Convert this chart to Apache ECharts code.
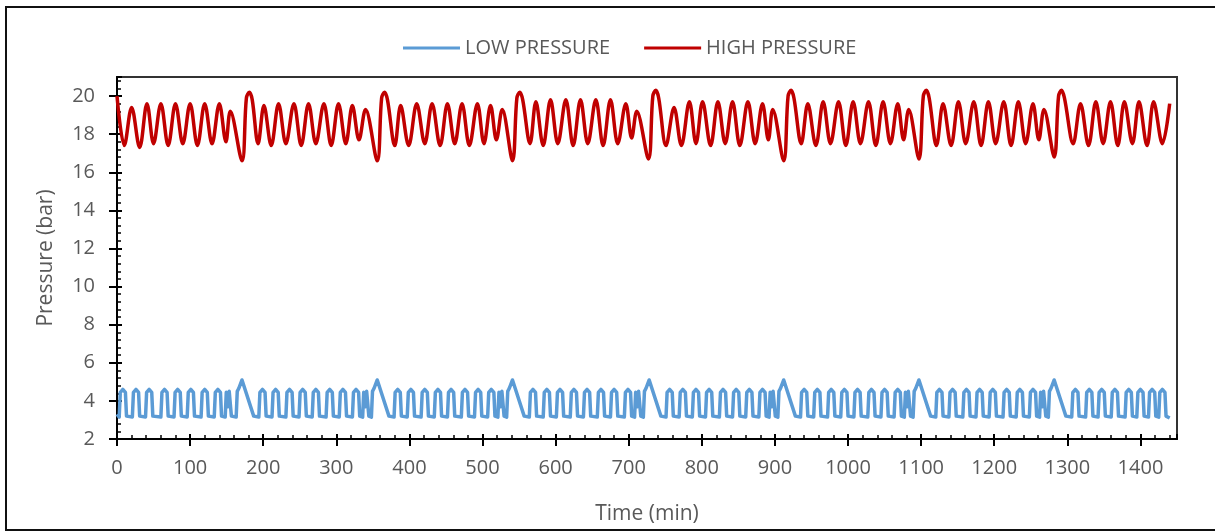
<!DOCTYPE html>
<html>
<head>
<meta charset="utf-8">
<title>Pressure</title>
<script src="https://cdn.jsdelivr.net/npm/echarts@6/dist/echarts.min.js"></script>
<style>
html,body{margin:0;padding:0;background:#fff;}
#chart{width:1215px;height:532px;}
</style>
</head>
<body>
<div id="chart"></div>
<script>
// x axis (min), y axis (bar)
var xMin = 0, xMax = 1450, xStep = 100;
var yMin = 2, yMax = 21, yStep = 2;
var seriesNames = ['LOW PRESSURE', 'HIGH PRESSURE'];

// [time, pressure]
var lowPressure = [
[0,3.3],[3,3.15],[4.5,4.45],[8,4.6],[11.5,4.45],[13,3.2],
[21,3.15],[22.5,4.45],[26,4.6],[29.5,4.45],[31,3.2],
[39,3.15],[40.5,4.45],[44,4.6],[47.5,4.45],[49,3.2],
[60,3.15],[61.5,4.45],[65,4.6],[68.5,4.45],[70,3.2],
[78,3.15],[79.5,4.45],[83,4.6],[86.5,4.45],[88,3.2],
[96,3.15],[97.5,4.45],[101,4.6],[104.5,4.45],[106,3.2],
[115,3.15],[116.5,4.45],[120,4.6],[123.5,4.45],[125,3.2],
[133,3.15],[134.5,4.45],[138,4.6],[141.5,4.45],[143,3.2],
[148,3.15],[149.5,4.45],[151,4.5],[152.5,3.7],[153.5,4.5],[155.5,4.45],[156.5,3.2],
[163,3.15],[164.5,4.5],[166.5,4.65],[171,5.1],[187,3.2],
[194,3.15],[195.5,4.45],[199,4.6],[202.5,4.45],[204,3.2],
[212,3.15],[213.5,4.45],[217,4.6],[220.5,4.45],[222,3.2],
[231,3.15],[232.5,4.45],[236,4.6],[239.5,4.45],[241,3.2],
[249,3.15],[250.5,4.45],[254,4.6],[257.5,4.45],[259,3.2],
[267,3.15],[268.5,4.45],[272,4.6],[275.5,4.45],[277,3.2],
[286,3.15],[287.5,4.45],[291,4.6],[294.5,4.45],[296,3.2],
[304,3.15],[305.5,4.45],[309,4.6],[312.5,4.45],[314,3.2],
[322,3.15],[323.5,4.45],[327,4.6],[330.5,4.45],[332,3.2],
[336,3.15],[337.5,4.45],[339,4.5],[340.5,3.7],[341.5,4.5],[343.5,4.45],[344.5,3.2],
[348,3.15],[349.5,4.5],[351.5,4.65],[356,5.1],[372,3.2],
[379,3.15],[380.5,4.45],[384,4.6],[387.5,4.45],[389,3.2],
[397,3.15],[398.5,4.45],[402,4.6],[405.5,4.45],[407,3.2],
[416,3.15],[417.5,4.45],[421,4.6],[424.5,4.45],[426,3.2],
[434,3.15],[435.5,4.45],[439,4.6],[442.5,4.45],[444,3.2],
[452,3.15],[453.5,4.45],[457,4.6],[460.5,4.45],[462,3.2],
[471,3.15],[472.5,4.45],[476,4.6],[479.5,4.45],[481,3.2],
[489,3.15],[490.5,4.45],[494,4.6],[497.5,4.45],[499,3.2],
[507,3.15],[508.5,4.45],[512,4.6],[515.5,4.45],[517,3.2],
[521,3.15],[522.5,4.45],[524,4.5],[525.5,3.7],[526.5,4.5],[528.5,4.45],[529.5,3.2],
[533,3.15],[534.5,4.5],[536.5,4.65],[541,5.1],[557,3.2],
[564,3.15],[565.5,4.45],[569,4.6],[572.5,4.45],[574,3.2],
[583,3.15],[584.5,4.45],[588,4.6],[591.5,4.45],[593,3.2],
[601,3.15],[602.5,4.45],[606,4.6],[609.5,4.45],[611,3.2],
[620,3.15],[621.5,4.45],[625,4.6],[628.5,4.45],[630,3.2],
[638,3.15],[639.5,4.45],[643,4.6],[646.5,4.45],[648,3.2],
[657,3.15],[658.5,4.45],[662,4.6],[665.5,4.45],[667,3.2],
[675,3.15],[676.5,4.45],[680,4.6],[683.5,4.45],[685,3.2],
[694,3.15],[695.5,4.45],[699,4.6],[702.5,4.45],[704,3.2],
[708,3.15],[709.5,4.45],[711,4.5],[712.5,3.7],[713.5,4.5],[715.5,4.45],[716.5,3.2],
[720,3.15],[721.5,4.5],[723.5,4.65],[728,5.1],[744,3.2],
[751,3.15],[752.5,4.45],[756,4.6],[759.5,4.45],[761,3.2],
[769,3.15],[770.5,4.45],[774,4.6],[777.5,4.45],[779,3.2],
[787,3.15],[788.5,4.45],[792,4.6],[795.5,4.45],[797,3.2],
[805,3.15],[806.5,4.45],[810,4.6],[813.5,4.45],[815,3.2],
[824,3.15],[825.5,4.45],[829,4.6],[832.5,4.45],[834,3.2],
[842,3.15],[843.5,4.45],[847,4.6],[850.5,4.45],[852,3.2],
[860,3.15],[861.5,4.45],[865,4.6],[868.5,4.45],[870,3.2],
[878,3.15],[879.5,4.45],[883,4.6],[886.5,4.45],[888,3.2],
[892,3.15],[893.5,4.45],[895,4.5],[896.5,3.7],[897.5,4.5],[899.5,4.45],[900.5,3.2],
[904,3.15],[905.5,4.5],[907.5,4.65],[912,5.1],[928,3.2],
[935,3.15],[936.5,4.45],[940,4.6],[943.5,4.45],[945,3.2],
[953,3.15],[954.5,4.45],[958,4.6],[961.5,4.45],[963,3.2],
[972,3.15],[973.5,4.45],[977,4.6],[980.5,4.45],[982,3.2],
[990,3.15],[991.5,4.45],[995,4.6],[998.5,4.45],[1000,3.2],
[1008,3.15],[1009.5,4.45],[1013,4.6],[1016.5,4.45],[1018,3.2],
[1027,3.15],[1028.5,4.45],[1032,4.6],[1035.5,4.45],[1037,3.2],
[1045,3.15],[1046.5,4.45],[1050,4.6],[1053.5,4.45],[1055,3.2],
[1063,3.15],[1064.5,4.45],[1068,4.6],[1071.5,4.45],[1073,3.2],
[1077,3.15],[1078.5,4.45],[1080,4.5],[1081.5,3.7],[1082.5,4.5],[1084.5,4.45],[1085.5,3.2],
[1089,3.15],[1090.5,4.5],[1092.5,4.65],[1097,5.1],[1113,3.2],
[1120,3.15],[1121.5,4.45],[1125,4.6],[1128.5,4.45],[1130,3.2],
[1138,3.15],[1139.5,4.45],[1143,4.6],[1146.5,4.45],[1148,3.2],
[1157,3.15],[1158.5,4.45],[1162,4.6],[1165.5,4.45],[1167,3.2],
[1175,3.15],[1176.5,4.45],[1180,4.6],[1183.5,4.45],[1185,3.2],
[1193,3.15],[1194.5,4.45],[1198,4.6],[1201.5,4.45],[1203,3.2],
[1212,3.15],[1213.5,4.45],[1217,4.6],[1220.5,4.45],[1222,3.2],
[1230,3.15],[1231.5,4.45],[1235,4.6],[1238.5,4.45],[1240,3.2],
[1248,3.15],[1249.5,4.45],[1253,4.6],[1256.5,4.45],[1258,3.2],
[1262,3.15],[1263.5,4.45],[1265,4.5],[1266.5,3.7],[1267.5,4.5],[1269.5,4.45],[1270.5,3.2],
[1274,3.15],[1275.5,4.5],[1277.5,4.65],[1282,5.1],[1298,3.2],
[1306,3.15],[1307.5,4.45],[1311,4.6],[1314.5,4.45],[1316,3.2],
[1325,3.15],[1326.5,4.45],[1330,4.6],[1333.5,4.45],[1335,3.2],
[1342,3.15],[1343.5,4.45],[1347,4.6],[1350.5,4.45],[1352,3.2],
[1360,3.15],[1361.5,4.45],[1365,4.6],[1368.5,4.45],[1370,3.2],
[1379,3.15],[1380.5,4.45],[1384,4.6],[1387.5,4.45],[1389,3.2],
[1395,3.15],[1396.5,4.45],[1400,4.6],[1403.5,4.45],[1405,3.2],
[1411,3.15],[1412.5,4.45],[1416,4.6],[1419.5,4.45],[1421,3.2],
[1425,3.15],[1426.5,4.45],[1430,4.6],[1433.5,4.45],[1435,3.2],[1440,3.1]
];

var highPressure = [
[0,20.0],[10,17.4],[20,19.4],[31,17.3],[41,19.6],[50,17.5],[60,19.6],[70,17.4],[80,19.6],[90,17.5],[100,19.6],[110,17.4],[120,19.6],[130,17.5],[140,19.6],[149,17.6],[155,19.2],
[171,16.6],[177,19.9],[181,20.2],[185,19.8],[193,17.5],[201,19.5],[211,17.4],[221,19.6],[231,17.5],[242,19.6],[252,17.4],[262,19.6],[272,17.5],[283,19.6],[293,17.4],[303,19.6],[313,17.5],[322,19.5],[331,17.7],[340,19.3],
[356,16.6],[362,19.9],[366,20.2],[370,19.8],[380,17.4],[388,19.5],[399,17.4],[410,19.6],[421,17.5],[431,19.6],[442,17.4],[452,19.6],[462,17.5],[472,19.6],[482,17.4],[493,19.6],[502,17.5],[511,19.5],[519,17.7],[527,19.3],
[541,16.6],[547,19.9],[551,20.2],[555,19.8],[565,17.5],[573,19.7],[583,17.4],[593,19.8],[603,17.5],[614,19.8],[624,17.4],[634,19.8],[644,17.5],[655,19.8],[665,17.4],[675,19.8],[685,17.5],[696,19.6],[704,17.8],[711,19.2],
[727,16.7],[733,20.0],[737,20.3],[741,19.9],[751,17.4],[762,19.4],[772,17.4],[783,19.7],[792,17.5],[801,19.7],[812,17.4],[822,19.7],[832,17.5],[842,19.7],[852,17.4],[863,19.7],[873,17.5],[883,19.6],[891,17.7],[897,19.3],
[912,16.6],[918,20.0],[922,20.3],[926,19.9],[936,17.5],[945,19.6],[956,17.4],[966,19.7],[976,17.5],[987,19.7],[997,17.4],[1007,19.7],[1017,17.5],[1028,19.7],[1038,17.4],[1048,19.7],[1058,17.5],[1068,19.6],[1076,17.7],[1083,19.3],
[1097,16.7],[1103,20.0],[1107,20.3],[1111,19.9],[1121,17.4],[1130,19.6],[1141,17.4],[1151,19.7],[1161,17.5],[1172,19.7],[1182,17.4],[1192,19.7],[1202,17.5],[1213,19.7],[1223,17.4],[1233,19.7],[1243,17.5],[1253,19.6],[1261,17.7],[1268,19.3],
[1282,16.8],[1288,20.0],[1292,20.3],[1296,19.9],[1308,17.5],[1318,19.6],[1329,17.4],[1339,19.7],[1349,17.5],[1359,19.7],[1369,17.4],[1378,19.7],[1389,17.5],[1398,19.7],[1409,17.4],[1418,19.7],[1430,17.5],[1440,19.6]
];

var chart = echarts.init(document.getElementById('chart'));

var font = 'Open Sans';
var grey = '#595959';
var plain = function (v) { return String(v); };

//主轴：刻度朝外 + 标签；副轴：刻度朝内 + 次刻度（拼出交叉刻度）
var option = {
  animation: false,
  graphic: [{
    type: 'rect',
    shape: {x: 6, y: 7, width: 1230, height: 523},
    style: {fill: 'none', stroke: '#111', lineWidth: 2},
    silent: true
  }],
  legend: {
    data: seriesNames,
    left: 398,
    top: 33,
    icon: 'rect',
    itemWidth: 57,
    itemHeight: 3,
    itemGap: 34,
    textStyle: {fontFamily: font, fontSize: 20, color: grey}
  },
  grid: {
    left: 117, right: 38, top: 77, bottom: 93,
    show: true, borderColor: '#333', borderWidth: 2
  },
  xAxis: [
    {
      type: 'value', min: xMin, max: xMax, interval: xStep, position: 'bottom',
      name: 'Time (min)', nameLocation: 'middle', nameGap: 65,
      nameTextStyle: {fontFamily: font, fontSize: 21, color: grey},
      axisLine: {onZero: false, lineStyle: {color: '#000', width: 2}},
      axisTick: {inside: false, length: 7, lineStyle: {color: '#000', width: 2}},
      axisLabel: {margin: 19, showMaxLabel: false, formatter: plain, fontFamily: font, fontSize: 20, color: grey},
      splitLine: {show: false}
    },
    {
      type: 'value', min: xMin, max: xMax, interval: xStep, position: 'bottom',
      axisLine: {show: false, onZero: false},
      axisLabel: {show: false},
      axisTick: {inside: true, length: 5, lineStyle: {color: '#000', width: 2}},
      minorTick: {show: true, splitNumber: 5, length: 4, lineStyle: {color: '#000', width: 1.5}},
      splitLine: {show: false}
    }
  ],
  yAxis: [
    {
      type: 'value', min: yMin, max: yMax, interval: yStep, position: 'left',
      name: 'Pressure (bar)', nameLocation: 'middle', nameGap: 60,
      nameTextStyle: {fontFamily: font, fontSize: 21, color: grey},
      axisLine: {show: true, onZero: false, lineStyle: {color: '#000', width: 2}},
      axisTick: {show: true, inside: false, length: 8, lineStyle: {color: '#000', width: 2}},
      axisLabel: {margin: 22, showMaxLabel: false, formatter: plain, fontFamily: font, fontSize: 20, color: grey},
      splitLine: {show: false}
    },
    {
      type: 'value', min: yMin, max: yMax, interval: yStep, position: 'left',
      axisLine: {show: false, onZero: false},
      axisLabel: {show: false},
      axisTick: {show: true, inside: true, length: 5, lineStyle: {color: '#000', width: 2}},
      minorTick: {show: true, splitNumber: 5, length: 4, lineStyle: {color: '#000', width: 1.5}},
      splitLine: {show: false}
    }
  ],
  series: [
    {
      name: seriesNames[0], type: 'line', xAxisIndex: 0, yAxisIndex: 0,
      data: lowPressure, showSymbol: false, smooth: false,
      itemStyle: {color: '#5B9BD5'},
      lineStyle: {color: '#5B9BD5', width: 3.5, join: 'round'}
    },
    {
      name: seriesNames[1], type: 'line', xAxisIndex: 0, yAxisIndex: 0,
      data: highPressure, showSymbol: false, smooth: 0.35,
      itemStyle: {color: '#C00000'},
      lineStyle: {color: '#C00000', width: 3.5, join: 'round'}
    }
  ]
};
chart.setOption(option);
</script>
</body>
</html>
